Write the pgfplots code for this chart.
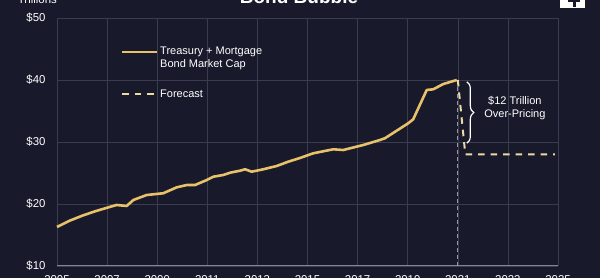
\documentclass[border=0pt]{standalone}
\usepackage{fontspec}
\setmainfont{Liberation Sans}
\usepackage{pgfplots}
\pgfplotsset{compat=1.18}
\usetikzlibrary{decorations.pathreplacing}

\definecolor{bg}{RGB}{24,25,43}
\definecolor{gridc}{RGB}{58,60,80}
\definecolor{axisc}{RGB}{130,132,148}
\definecolor{divc}{RGB}{150,152,165}
\definecolor{gold}{RGB}{232,194,106}
\definecolor{fcast}{RGB}{236,218,165}

\begin{document}
\begin{tikzpicture}[x=1pt,y=1pt]
\useasboundingbox (0,0) rectangle (600,278);
\fill[bg] (0,0) rectangle (600,278);
\begin{axis}[
  at={(57pt,12pt)}, anchor=south west,
  scale only axis, width=501pt, height=248pt,
  xmin=2005, xmax=2025, ymin=10, ymax=50,
  xtick={2005,2007,...,2025},
  xticklabels={2005,2007,2009,2011,2013,2015,2017,2019,2021,2023,2025},
  ytick={10,20,30,40,50},
  yticklabels={\$10,\$20,\$30,\$40,\$50},
  grid=major, major grid style={gridc, line width=0.6pt},
  major tick length=0pt,
  axis x line*=bottom, axis y line*=left,
  x axis line style={axisc, line width=1pt, -},
  y axis line style={draw=none},
  tick label style={font=\fontsize{11.4}{13}\selectfont, text=white},
  xticklabel style={yshift=-5.7pt},
  yticklabel style={xshift=-8pt},
  clip=false,
]
\addplot[divc, line width=0.8pt, dash pattern=on 4pt off 3pt]
  coordinates {(2021,10) (2021,40)};

% Treasury + Mortgage bond market cap
\addplot[gold, line width=2.6pt, line join=round] coordinates {
  (2005.0,16.3) (2005.5,17.3) (2006.0,18.1) (2006.5,18.8) (2007.0,19.4)
  (2007.38,19.84) (2007.78,19.68) (2008.05,20.65) (2008.58,21.45)
  (2009.24,21.73) (2009.78,22.69) (2010.18,23.06) (2010.51,23.06)
  (2010.98,23.87) (2011.24,24.40) (2011.64,24.68) (2011.91,25.05)
  (2012.31,25.37) (2012.51,25.60) (2012.77,25.21) (2013.24,25.60)
  (2013.77,26.13) (2014.23,26.82) (2014.70,27.42) (2015.23,28.18)
  (2016.03,28.82) (2016.43,28.71) (2017.23,29.52) (2017.89,30.32)
  (2018.09,30.60) (2018.56,31.82) (2019.02,33.02) (2019.22,33.66)
  (2019.76,38.39) (2020.02,38.50) (2020.42,39.35) (2020.96,40.0)
};

% forecast
\addplot[fcast, line width=2pt, dash pattern=on 6.5pt off 6pt] coordinates {
  (2021.0,40.0) (2021.3,28.0) (2024.88,28.0)
};

\draw[white, line width=1.2pt, decorate, decoration={brace, amplitude=7pt}]
  (axis cs:2021.36,39.7) -- (axis cs:2021.36,29.8);
\node[align=center, text=white, font=\fontsize{11}{13}\selectfont]
  at (axis cs:2023.28,35.5) {\$12 Trillion\\Over-Pricing};
\end{axis}

% legend
\draw[gold, line width=2.6pt] (122,226) -- (157,226);
\node[anchor=base west, inner sep=0pt, align=left, text=white,
  font=\fontsize{11}{13}\selectfont] at (160,210)
  {Treasury + Mortgage\\Bond Market Cap};
\draw[fcast, line width=2pt, dash pattern=on 6.5pt off 6pt] (122,184) -- (155,184);
\node[anchor=base west, inner sep=0pt, text=white,
  font=\fontsize{11}{13}\selectfont] at (160,180) {Forecast};

\node[anchor=base, inner sep=0pt, text=white, font=\bfseries\fontsize{19}{22}\selectfont]
  at (299,274) {Bond Bubble};
\node[anchor=base east, inner sep=0pt, text=white, font=\fontsize{11.4}{13}\selectfont]
  at (57,274) {Trillions};
\fill[white] (560,270) rectangle (585,280);
\fill[bg] (568,276) rectangle (580,280);
\fill[bg] (572.5,271) rectangle (575.5,280);
\end{tikzpicture}
\end{document}
